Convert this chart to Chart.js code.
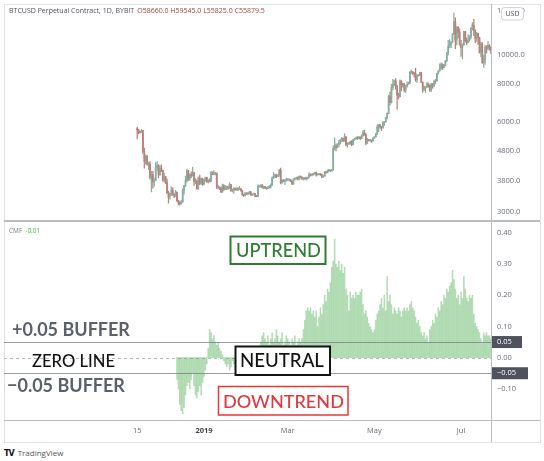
<!DOCTYPE html>
<html>
<head>
<meta charset="utf-8">
<script src="https://cdn.jsdelivr.net/npm/chart.js@4.4.1/dist/chart.umd.min.js"></script>
<style>
	body { margin: 0; width: 544px; height: 461px; background: #fff; position: relative; overflow: hidden; font-family: "Open Sans", sans-serif; }
	canvas { position: absolute; }
	#frame { position: absolute; left: 4px; top: 4px; width: 535px; height: 437px; border: 1px solid #e0e3eb; }
	.ln { position: absolute; background: #b9bcc4; }
	#hdr { position: absolute; left: 9px; top: 6px; font-size: 7px; line-height: 10px; color: #50535e; white-space: nowrap; }
	#hdr .r { color: #a0463f; margin-left: 3px; }
	#cmf { position: absolute; left: 9px; top: 226px; font-size: 6.5px; line-height: 10px; color: #787b86; white-space: nowrap; }
	#cmf .g { color: #4caf50; margin-left: 3px; }
	#logo { position: absolute; left: 4px; top: 447px; font-size: 8px; line-height: 11px; color: #555; white-space: nowrap; }
	#logo b { color: #131722; font-family: "DejaVu Sans", sans-serif; font-size: 8px; letter-spacing: -1px; margin-right: 4px; }
</style>
</head>
<body>
<div id="frame"></div>
<canvas id="priceChart" width="536" height="217" style="left:4px;top:4px"></canvas>
<canvas id="cmfChart" width="536" height="220" style="left:4px;top:222px"></canvas>
<div class="ln" style="left:491px;top:4px;width:1px;height:438px"></div>
<div class="ln" style="left:4px;top:220px;width:536px;height:2px"></div>
<div class="ln" style="left:4px;top:420px;width:536px;height:1px"></div>
<div id="hdr">BTCUSD Perpetual Contract, 1D, BYBIT<span class="r">O58660.0 H59545.0 L55825.0 C55879.5</span></div>
<div id="cmf">CMF<span class="g">-0.01</span></div>
<div id="logo"><b>TV</b>TradingView</div>
<script>
// daily BTCUSD candles, 15 Nov 2018 .. 22 Jul 2019
const priceStart = "2018-11-15";
const opens = [
	5700,5620,5540,5530,5600,4780,4430,4590,4320,4330,3900,4000,3780,3830,4240,4270,
	3990,4200,4130,3830,3930,3750,3480,3380,3420,3550,3440,3390,3490,3270,3230,3190,3240,3530,3670,3800,4110,3880,4000,3960,4060,3790,3810,3590,3880,3730,3870,
	3720,3840,3910,3790,3820,3800,4060,4010,4020,4030,3630,3630,3600,3500,3670,3570,3610,3640,3600,3700,3530,3550,3580,3560,3590,3580,3580,3540,3430,3400,3460,
	3440,3470,3500,3420,3430,3450,3390,3380,3650,3660,3690,3620,3630,3610,3590,3610,3640,3690,3900,3920,3990,3940,3980,4140,3750,3830,3810,3820,
	3830,3840,3840,3800,3720,3860,3870,3880,3860,3940,3920,3870,3880,3870,3870,3910,4000,3980,3990,4030,4060,3990,4000,4010,4000,3930,3950,4080,4060,4120,4120,
	4110,4140,4880,4970,4910,5040,5060,5200,5280,5170,5340,5020,5060,5070,5150,5030,5220,5250,5290,5280,5330,5280,5380,5520,5430,5090,5200,5190,5190,5170,
	5290,5340,5450,5760,5850,5770,5720,5940,5990,6180,6380,7280,6960,7800,7990,8200,7880,7350,7260,8200,7990,7960,7630,7880,7990,8070,8750,8780,8720,8660,8280,
	8550,8560,8740,8120,7680,7800,7810,8000,7930,7630,8010,7930,8150,8230,8690,8850,8990,9320,9080,9270,9530,10200,10700,10850,11020,11750,12900,11200,12400,11900,
	10800,10600,10800,11980,11150,11000,11250,11480,12300,12580,12100,11350,11800,11400,10200,10870,9430,9670,10640,10530,10760,10600
];
const highs = [
	5750,5650,5570,5650,5610,4900,4650,4620,4400,4420,4100,4100,3880,4380,4420,4320,
	4280,4300,4140,4050,3940,3860,3520,3470,3640,3610,3450,3540,3500,3280,3250,3280,3580,3680,3950,4170,4130,4030,4080,4230,4070,3880,3840,3930,3980,3900,3880,
	3860,3920,3920,3850,3880,4100,4080,4120,4070,4050,3680,3640,3630,3720,3700,3680,3660,3650,3760,3710,3580,3620,3610,3610,3600,3650,3590,3550,3440,3490,3480,
	3490,3520,3510,3440,3470,3460,3410,3700,3670,3700,3700,3660,3650,3620,3650,3680,3720,3930,4060,4000,4010,3990,4160,4200,3850,3840,3830,3890,
	3880,3850,3850,3810,3870,3890,3920,3930,3960,3950,3930,3900,3890,3920,3920,4060,4010,4030,4040,4070,4080,4020,4020,4010,4010,3960,4090,4080,4140,4160,4130,
	4160,4980,5300,5060,5070,5200,5240,5320,5280,5470,5350,5100,5120,5170,5190,5240,5280,5330,5350,5350,5340,5430,5600,5620,5470,5280,5240,5220,5200,5310,
	5350,5480,5860,5870,5860,5780,6000,6000,6200,6420,7350,7530,8000,8300,8250,8350,7930,7460,8260,8210,8040,8040,7940,8140,8130,8830,8930,8800,8740,9040,8570,
	8620,8780,8750,8120,7890,7860,8130,8060,7950,8050,8030,8220,8300,8700,8860,9350,9440,9340,9300,9600,10200,11200,11250,11080,11790,13800,13300,12400,12400,12200,
	11200,10900,11980,12000,11400,11700,11600,12350,12820,13150,12120,11900,11840,11450,11050,11000,9950,10740,10750,11080,10830,10650
];
const lows = [
	5250,5460,5490,5520,4700,4200,4330,4300,4150,3860,3500,3600,3660,3820,4120,3900,
	3970,4090,3800,3770,3730,3450,3210,3310,3410,3410,3350,3380,3250,3170,3160,3190,3230,3440,3650,3780,3820,3820,3900,3950,3680,3720,3570,3570,3700,3710,3680,
	3690,3800,3760,3740,3780,3780,3990,3990,3990,3590,3580,3560,3480,3490,3540,3560,3560,3570,3600,3510,3500,3460,3540,3540,3530,3560,3510,3400,3380,3390,3430,
	3420,3440,3410,3410,3420,3370,3370,3370,3630,3620,3600,3580,3590,3570,3580,3600,3610,3680,3880,3900,3900,3930,3950,3720,3740,3780,3700,3790,
	3820,3800,3790,3700,3710,3830,3860,3830,3850,3890,3850,3830,3850,3830,3860,3900,3950,3960,3980,4000,3950,3980,3990,3970,3900,3910,3940,4030,4050,4090,4100,
	4100,4140,4830,4790,4900,4950,5060,5140,5150,5160,4980,4930,5030,5040,4980,5020,5200,5240,5230,5260,5210,5260,5370,5400,5020,5070,5170,5150,5110,5160,
	5280,5330,5440,5560,5700,5600,5710,5820,5980,6120,6370,6800,6920,7650,7900,7680,6600,7140,7250,7590,7820,7540,7510,7820,7980,8020,8690,8600,8450,8170,8110,
	8490,8540,8090,7500,7600,7490,7790,7810,7560,7560,7750,7830,8020,8170,8630,8840,8990,8950,9050,9200,9530,10000,10560,10570,11020,11700,10500,10800,11400,10800,
	9900,9700,10800,11050,10800,11000,11100,11320,12120,11600,11000,11100,10850,10150,9870,9380,9100,9300,10150,10400,10380,10100
];
const closes = [
	5620,5540,5530,5600,4780,4430,4590,4320,4330,3900,4000,3780,3830,4240,4270,3990,
	4200,4130,3830,3930,3750,3480,3380,3420,3550,3440,3390,3490,3270,3230,3190,3240,3530,3670,3800,4110,3880,4000,3960,4060,3790,3810,3590,3880,3730,3870,3720,
	3840,3910,3790,3820,3800,4060,4010,4020,4030,3630,3630,3600,3500,3670,3570,3610,3640,3600,3700,3530,3550,3580,3560,3590,3580,3580,3540,3430,3400,3460,3440,
	3470,3500,3420,3430,3450,3390,3380,3650,3660,3690,3620,3630,3610,3590,3610,3640,3690,3900,3920,3990,3940,3980,4140,3750,3830,3810,3820,3830,
	3840,3840,3800,3720,3860,3870,3880,3860,3940,3920,3870,3880,3870,3870,3910,4000,3980,3990,4030,4060,3990,4000,4010,4000,3930,3950,4080,4060,4120,4120,4110,
	4140,4880,4970,4910,5040,5060,5200,5280,5170,5340,5020,5060,5070,5150,5030,5220,5250,5290,5280,5330,5280,5380,5520,5430,5090,5200,5190,5190,5170,5290,
	5340,5450,5760,5850,5770,5720,5940,5990,6180,6380,7280,6960,7800,7990,8200,7880,7350,7260,8200,7990,7960,7630,7880,7990,8070,8750,8780,8720,8660,8280,8550,
	8560,8740,8120,7680,7800,7810,8000,7930,7630,8010,7930,8150,8230,8690,8850,8990,9320,9080,9270,9530,10200,10700,10850,11020,11750,12900,11200,12400,11900,10800,
	10600,10800,11980,11150,11000,11250,11480,12300,12580,12100,11350,11800,11400,10200,10870,9430,9670,10640,10530,10760,10600,10330
];

// Chaikin money flow, 13 Dec 2018 .. 22 Jul 2019
const cmfStart = "2018-12-13";
const cmfValues = [
	-0.07,-0.10,-0.15,-0.17,-0.18,-0.16,-0.12,-0.09,-0.08,-0.10,-0.07,-0.05,-0.09,-0.12,-0.13,-0.11,-0.09,-0.12,-0.08,-0.06,-0.04,-0.02,
	0.03,0.09,0.08,0.06,0.07,0.05,0.04,0.05,0.03,0.02,0.01,
	-0.01,-0.02,-0.03,-0.02,-0.04,-0.03,-0.01,-0.02,-0.03,-0.01,
	0.01,-0.01,0.02,0.01,-0.02,-0.04,-0.03,0.01,0.02,-0.01,0.02,0.01,0.03,0.02,0.01,0.03,0.05,0.07,
	0.08,0.06,0.05,0.07,0.04,0.06,0.08,0.05,0.06,0.09,0.07,0.05,0.06,0.08,0.04,0.05,0.07,0.06,0.05,0.04,0.06,0.05,0.07,0.04,0.05,0.06,0.05,
	0.06,0.09,0.12,0.15,0.16,0.15,0.16,0.14,0.15,0.13,0.15,0.10,0.13,0.16,0.14,0.17,0.20,0.18,0.22,0.21,0.24,0.29,0.31,0.38,0.30,0.29,0.31,0.28,0.30,0.27,0.29,0.22,0.20,0.15,
	0.21,0.19,0.20,0.19,0.21,0.20,0.20,0.21,0.22,0.17,0.14,0.15,0.13,0.11,0.10,0.09,0.08,0.09,0.12,0.14,0.15,0.17,0.19,0.16,0.20,0.15,0.26,0.18,0.20,0.17,0.14,0.16,0.15,
	0.14,0.16,0.15,0.13,0.15,0.16,0.15,0.16,0.15,0.17,0.18,0.16,0.15,0.13,0.11,0.12,0.10,0.08,0.07,0.08,0.06,0.07,0.05,0.09,0.10,0.12,0.11,0.14,0.13,0.16,0.15,0.18,0.17,
	0.20,0.19,0.22,0.21,0.23,0.24,0.28,0.25,0.22,0.19,0.20,0.17,0.21,0.19,0.26,0.22,0.19,0.18,0.20,0.19,0.20,0.14,0.11,0.10,0.09,0.08,0.06,0.05,0.08,0.07,0.08,0.07,0.07,0.06
];

// axis ticks
const priceTicks = [3000, 3800, 4800, 6000, 8000, 10000, 14000];
const cmfTicks = [-0.1, 0, 0.1, 0.2, 0.3, 0.4];
const timeTicks = [-47, 0, 59, 120, 181]; // days from 1 Jan 2019
const timeLabels = ["15", "2019", "Mar", "May", "Jul"];

const X_MIN = -140.8, X_MAX = 202.1;
const UP = "#86ae9f", DOWN = "#bd7e77";
const AXIS_TEXT = "#6a6d78";
const FONT = '"Open Sans", sans-serif';

window.addEventListener("load", setup);

function dayOf(str, i) {
	return (Date.parse(str) - Date.parse("2019-01-01")) / 864e5 + i;
}

function setup() {
	Chart.defaults.font.family = FONT;
	drawPrice();
	drawCmf();
}

function fmtMinus(v) {
	return v < 0 ? "\u2212" + Math.abs(v).toFixed(2) : v.toFixed(2);
}

function drawPrice() {
	const bodies = opens.map((o, i) => ({ x: dayOf(priceStart, i), y: [o, closes[i]] }));
	const wicks = lows.map((l, i) => ({ x: dayOf(priceStart, i), y: [l, highs[i]] }));
	const colour = (c) => (closes[c.dataIndex] >= opens[c.dataIndex] ? UP : DOWN);

	const usdBadge = {
		id: "usdBadge",
		afterDraw(chart) {
			const ctx = chart.ctx;
			ctx.save();
			ctx.fillStyle = "#fff";
			ctx.strokeStyle = "#d1d4dc";
			ctx.lineWidth = 1;
			ctx.beginPath();
			ctx.roundRect(497.5, 3.5, 22, 12.5, 3);
			ctx.fill();
			ctx.stroke();
			ctx.fillStyle = "#50535e";
			ctx.font = "7px " + FONT;
			ctx.textAlign = "center";
			ctx.textBaseline = "middle";
			ctx.fillText("USD", 508.5, 10);
			ctx.restore();
		},
	};

	new Chart(document.getElementById("priceChart"), {
		type: "bar",
		data: {
			datasets: [
				{ data: bodies, backgroundColor: colour, barThickness: 1.1, grouped: false, minBarLength: 1 },
				{ data: wicks, backgroundColor: colour, barThickness: 0.6, grouped: false },
			],
		},
		options: {
			responsive: false,
			animation: false,
			events: [],
			layout: { padding: 0 },
			plugins: { legend: { display: false }, tooltip: { enabled: false } },
			scales: {
				x: { type: "linear", min: X_MIN, max: X_MAX, bounds: "data", offset: false, display: false },
				y: {
					type: "logarithmic",
					position: "right",
					min: 2800,
					max: 14786,
					bounds: "data",
					grid: { display: false, drawTicks: false },
					border: { display: false },
					ticks: { padding: 6, color: AXIS_TEXT, font: { size: 7.5 }, callback: (v) => Number(v).toFixed(1) },
					afterBuildTicks: (s) => { s.ticks = priceTicks.map((v) => ({ value: v })); },
					afterFit: (s) => { s.width = 49; s.paddingTop = 0; s.paddingBottom = 0; },
				},
			},
		},
		plugins: [usdBadge],
	});
}

function drawCmf() {
	const bars = cmfValues.map((v, i) => ({ x: dayOf(cmfStart, i), y: v }));

	// page coords -> canvas coords
	const px = (x) => x - 4;
	const py = (y) => y - 222;

	function fitText(ctx, text, left, baseline, width, weight, colour) {
		ctx.font = weight + " 20px Lato";
		const size = (20 * width) / ctx.measureText(text).width;
		ctx.font = weight + " " + size + "px Lato";
		ctx.fillStyle = colour;
		ctx.textAlign = "left";
		ctx.textBaseline = "alphabetic";
		ctx.fillText(text, px(left), py(baseline));
	}

	function box(ctx, l, t, r, b, colour, lw) {
		ctx.fillStyle = "#fff";
		ctx.fillRect(px(l), py(t), r - l, b - t);
		ctx.strokeStyle = colour;
		ctx.lineWidth = lw;
		ctx.strokeRect(px(l), py(t), r - l, b - t);
	}

	const guides = {
		id: "guides",
		beforeDatasetsDraw(chart) {
			const { ctx, chartArea } = chart;
			const y0 = Math.round(chart.scales.y.getPixelForValue(0)) + 0.5;
			ctx.save();
			ctx.strokeStyle = "#b7bac2";
			ctx.lineWidth = 1;
			ctx.setLineDash([3, 3]);
			ctx.beginPath();
			ctx.moveTo(chartArea.left, y0);
			ctx.lineTo(chartArea.right, y0);
			ctx.stroke();
			ctx.restore();
		},
		afterDatasetsDraw(chart) {
			const { ctx, chartArea } = chart;
			const ys = chart.scales.y;
			ctx.save();
			ctx.strokeStyle = "rgba(120,123,134,0.75)";
			ctx.lineWidth = 1;
			[0.05, -0.05].forEach((v) => {
				const y = Math.round(ys.getPixelForValue(v)) + 0.5;
				ctx.beginPath();
				ctx.moveTo(chartArea.left, y);
				ctx.lineTo(chartArea.right, y);
				ctx.stroke();
			});

			// notes
			box(ctx, 230.5, 236.5, 325.5, 264, "#2e7d32", 2);
			fitText(ctx, "UPTREND", 236, 257, 85, "500", "#2e7d32");
			box(ctx, 235.5, 346.5, 330, 375, "#131313", 2);
			fitText(ctx, "NEUTRAL", 240, 367, 84, "500", "#131313");
			box(ctx, 218.5, 386.5, 348, 415, "#e53935", 1.5);
			fitText(ctx, "DOWNTREND", 223, 407.5, 121, "500", "#e0393e");
			fitText(ctx, "+0.05 BUFFER", 12, 336, 118, "bold", "#5c606c");
			fitText(ctx, "ZERO LINE", 32, 367, 83, "500", "#131313");
			fitText(ctx, "\u22120.05 BUFFER", 7, 392, 118, "bold", "#5c606c");

			// axis badges
			ctx.font = "7.5px " + FONT;
			ctx.textBaseline = "middle";
			ctx.textAlign = "left";
			[[0.05, 30], [-0.05, 36]].forEach(([v, w]) => {
				const y = ys.getPixelForValue(v);
				ctx.fillStyle = "#50535e";
				ctx.fillRect(chartArea.right + 1, y - 6, w, 12);
				ctx.fillStyle = "#fff";
				ctx.fillText(fmtMinus(v), chartArea.right + 6, y);
			});
			ctx.restore();
		},
	};

	new Chart(document.getElementById("cmfChart"), {
		type: "bar",
		data: {
			datasets: [{ data: bars, backgroundColor: "rgba(86,178,90,0.45)", barThickness: 0.9, grouped: false }],
		},
		options: {
			responsive: false,
			animation: false,
			events: [],
			layout: { padding: 0 },
			plugins: { legend: { display: false }, tooltip: { enabled: false } },
			scales: {
				x: {
					type: "linear",
					min: X_MIN,
					max: X_MAX,
					bounds: "data",
					offset: false,
					grid: { display: false, drawTicks: false },
					border: { display: false },
					ticks: {
						autoSkip: false,
						maxRotation: 0,
						padding: 6,
						color: (c) => (c.tick && c.tick.label === "2019" ? "#434651" : AXIS_TEXT),
						font: (c) => ({ size: 7.5, weight: c.tick && c.tick.label === "2019" ? "bold" : "normal" }),
						callback: (v) => timeLabels[timeTicks.indexOf(v)],
					},
					afterBuildTicks: (s) => { s.ticks = timeTicks.map((v) => ({ value: v })); },
					afterFit: (s) => { s.height = 22; s.paddingLeft = 0; s.paddingRight = 0; },
				},
				y: {
					position: "right",
					min: -0.2,
					max: 0.435,
					bounds: "data",
					grid: { display: false, drawTicks: false },
					border: { display: false },
					ticks: { padding: 6, color: AXIS_TEXT, font: { size: 7.5 }, callback: (v) => fmtMinus(v) },
					afterBuildTicks: (s) => { s.ticks = cmfTicks.map((v) => ({ value: v })); },
					afterFit: (s) => { s.width = 49; s.paddingTop = 0; s.paddingBottom = 0; },
				},
			},
		},
		plugins: [guides],
	});
}
</script>
</body>
</html>
